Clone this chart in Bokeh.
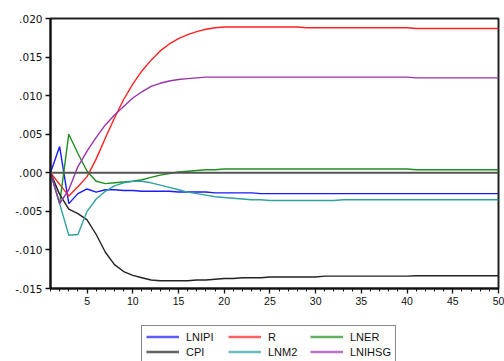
from bokeh.plotting import figure
from bokeh.layouts import column
from bokeh.models import FixedTicker, CustomJSTickFormatter, Span, Legend, LegendItem, Range1d
from bokeh.embed import file_html
from bokeh.resources import INLINE

periods = list(range(1, 51))

lnipi = [0.0, 0.0034, -0.0040, -0.0027, -0.0021, -0.0025, -0.0022, -0.0022, -0.0023, -0.0023,
         -0.0024, -0.0024, -0.0024, -0.0024, -0.0025, -0.0025, -0.0025, -0.0025, -0.0026, -0.0026,
         -0.0026, -0.0026, -0.0026, -0.0027, -0.0027, -0.0027, -0.0027, -0.0027, -0.0027, -0.0027,
         -0.0027, -0.0027, -0.0027, -0.0027, -0.0027, -0.0027, -0.0027, -0.0027, -0.0027, -0.0027,
         -0.0027, -0.0027, -0.0027, -0.0027, -0.0027, -0.0027, -0.0027, -0.0027, -0.0027, -0.0027]

r = [0.0, -0.0015, -0.0030, -0.0018, -0.0005, 0.0018, 0.0045, 0.0071, 0.0095, 0.0115,
     0.0132, 0.0146, 0.0158, 0.0167, 0.0174, 0.0179, 0.0183, 0.0186, 0.0188, 0.0189,
     0.0189, 0.0189, 0.0189, 0.0189, 0.0189, 0.0189, 0.0189, 0.0189, 0.0188, 0.0188,
     0.0188, 0.0188, 0.0188, 0.0188, 0.0188, 0.0188, 0.0188, 0.0188, 0.0188, 0.0188,
     0.0187, 0.0187, 0.0187, 0.0187, 0.0187, 0.0187, 0.0187, 0.0187, 0.0187, 0.0187]

lner = [0.0, -0.0040, 0.0050, 0.0025, 0.0002, -0.0011, -0.0014, -0.0013, -0.0012, -0.0011,
        -0.0009, -0.0006, -0.0003, -0.0001, 0.0001, 0.0002, 0.0003, 0.0004, 0.0004, 0.0005,
        0.0005, 0.0005, 0.0005, 0.0005, 0.0005, 0.0005, 0.0005, 0.0005, 0.0005, 0.0005,
        0.0005, 0.0005, 0.0005, 0.0005, 0.0005, 0.0005, 0.0005, 0.0005, 0.0005, 0.0005,
        0.0004, 0.0004, 0.0004, 0.0004, 0.0004, 0.0004, 0.0004, 0.0004, 0.0004, 0.0004]

cpi = [0.0, -0.0028, -0.0047, -0.0053, -0.0061, -0.0080, -0.0103, -0.0119, -0.0128, -0.0133,
       -0.0136, -0.0139, -0.0140, -0.0140, -0.0140, -0.0140, -0.0139, -0.0139, -0.0138, -0.0137,
       -0.0137, -0.0136, -0.0136, -0.0136, -0.0135, -0.0135, -0.0135, -0.0135, -0.0135, -0.0135,
       -0.0134, -0.0134, -0.0134, -0.0134, -0.0134, -0.0134, -0.0134, -0.0134, -0.0134, -0.0134,
       -0.01335, -0.01335, -0.01335, -0.01335, -0.01335, -0.01335, -0.01335, -0.01335, -0.01335, -0.01335]

lnm2 = [0.0, -0.0040, -0.0081, -0.0080, -0.0050, -0.0034, -0.0024, -0.0017, -0.0013, -0.0011,
        -0.0011, -0.0013, -0.0016, -0.0019, -0.0022, -0.0025, -0.0027, -0.0029, -0.0031, -0.0032,
        -0.0033, -0.0034, -0.0035, -0.0035, -0.0036, -0.0036, -0.0036, -0.0036, -0.0036, -0.0036,
        -0.0036, -0.0036, -0.0035, -0.0035, -0.0035, -0.0035, -0.0035, -0.0035, -0.0035, -0.0035,
        -0.0035, -0.0035, -0.0035, -0.0035, -0.0035, -0.0035, -0.0035, -0.0035, -0.0035, -0.0035]

lnihsg = [0.0, -0.0040, -0.0022, 0.0008, 0.0028, 0.0046, 0.0062, 0.0075, 0.0086, 0.0097,
          0.0105, 0.0112, 0.0116, 0.0119, 0.0121, 0.0122, 0.0123, 0.0124, 0.0124, 0.0124,
          0.0124, 0.0124, 0.0124, 0.0124, 0.0124, 0.0124, 0.0124, 0.0124, 0.0124, 0.0124,
          0.0124, 0.0124, 0.0124, 0.0124, 0.0124, 0.0124, 0.0124, 0.0124, 0.0124, 0.0124,
          0.0123, 0.0123, 0.0123, 0.0123, 0.0123, 0.0123, 0.0123, 0.0123, 0.0123, 0.0123]

series_names = ["LNIPI", "R", "LNER", "CPI", "LNM2", "LNIHSG"]
series_values = [lnipi, r, lner, cpi, lnm2, lnihsg]
series_colors = ["#1a1aff", "#ff2020", "#1f8f1f", "#222222", "#30a0a0", "#9933aa"]
# legend fills column by column: order so rows read LNIPI R LNER / CPI LNM2 LNIHSG
legend_order = ["LNIPI", "CPI", "R", "LNM2", "LNER", "LNIHSG"]

x_ticks = [5, 10, 15, 20, 25, 30, 35, 40, 45, 50]
y_ticks = [-0.015, -0.010, -0.005, 0.0, 0.005, 0.010, 0.015, 0.020]

FONT = "Liberation Sans"

p = figure(width=504, height=325, output_backend="svg", toolbar_location=None,
           x_range=Range1d(1, 50), y_range=Range1d(-0.015, 0.020),
           min_border_left=50, min_border_right=6, min_border_top=18, min_border_bottom=37)
p.background_fill_color = "white"
p.border_fill_color = "white"
p.grid.visible = False
p.outline_line_color = "#222222"
p.outline_line_width = 2

zero = Span(location=0.0, dimension="width", line_color="#555555", line_width=2)
p.add_layout(zero)

for name, vals, col in zip(series_names, series_values, series_colors):
    p.line(periods, vals, line_color=col, line_width=1.4)

p.xaxis.ticker = FixedTicker(ticks=x_ticks, minor_ticks=periods)
p.yaxis.ticker = FixedTicker(ticks=y_ticks, minor_ticks=[])
p.yaxis.formatter = CustomJSTickFormatter(code="""
var s = tick.toFixed(3);
return s.replace('0.', '.');
""")
for ax in (p.xaxis[0], p.yaxis[0]):
    ax.axis_line_color = "#111111"
    ax.axis_line_width = 2
    ax.major_tick_line_color = "#111111"
    ax.major_tick_line_width = 1.3
    ax.minor_tick_line_color = "#111111"
    ax.minor_tick_line_width = 1
    ax.major_tick_in = 0
    ax.major_tick_out = 5
    ax.minor_tick_in = 0
    ax.minor_tick_out = 3
    ax.major_label_text_color = "#111111"
    ax.major_label_standoff = 3
p.xaxis.major_label_text_font = FONT
p.xaxis.major_label_text_font_size = "10.5px"
p.yaxis.major_label_text_font = "DejaVu Sans"
p.yaxis.major_label_text_font_size = "10.5px"

# legend strip below the chart (its lines lie outside its own visible range)
q = figure(width=504, height=36, output_backend="svg", toolbar_location=None,
           x_range=Range1d(1, 50), y_range=Range1d(1, 2),
           x_axis_location=None, y_axis_location=None,
           min_border_left=0, min_border_right=0, min_border_top=0, min_border_bottom=0)
q.grid.visible = False
q.outline_line_color = None
q.background_fill_color = "white"
q.border_fill_color = "white"

qmap = {}
for name, vals, col in zip(series_names, series_values, series_colors):
    qmap[name] = q.line(periods, vals, line_color=col, line_width=2.5, line_alpha=0.7)

items = [LegendItem(label=n, renderers=[qmap[n]]) for n in legend_order]
legend = Legend(items=items, ncols=3, location=(91, -2),
                label_text_font=FONT, label_text_font_size="11px",
                label_text_color="#111111",
                glyph_width=33, glyph_height=13, label_standoff=7,
                label_height=13, label_width=40, spacing=2, padding=4, margin=0,
                border_line_color="#111111", border_line_width=1.5,
                background_fill_color="white")
q.add_layout(legend, "center")

layout = column(p, q, spacing=0)
open("out.html", "w").write(file_html(layout, INLINE))
